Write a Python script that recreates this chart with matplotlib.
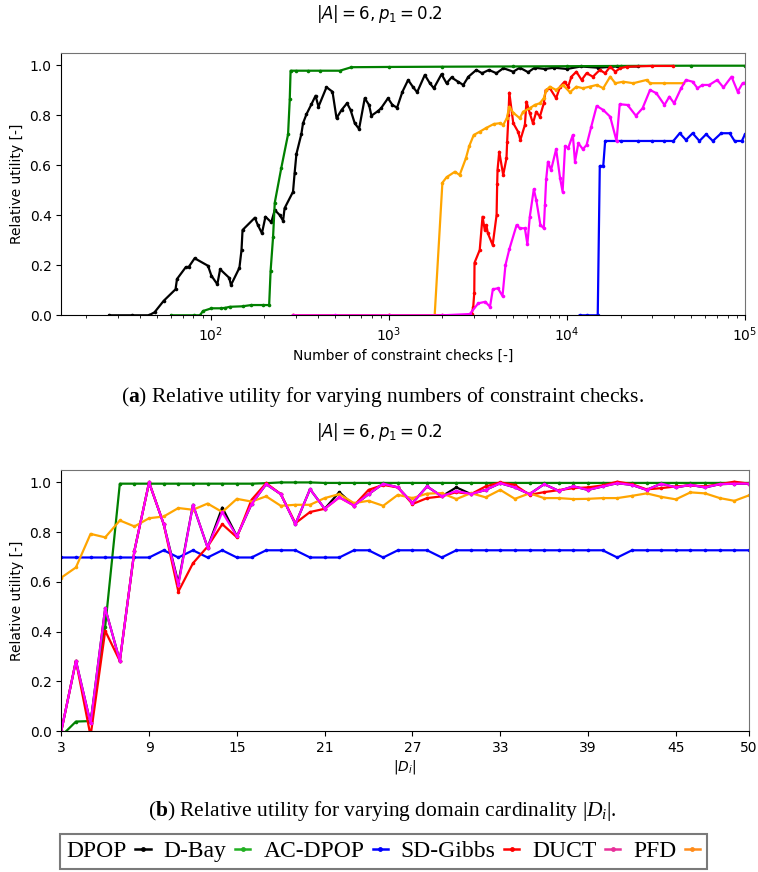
import matplotlib
matplotlib.use("Agg")
import matplotlib.pyplot as plt
from matplotlib.lines import Line2D

plt.rcParams['font.family'] = ['DejaVu Sans']
plt.rcParams['mathtext.fontset'] = 'dejavusans'
plt.rcParams['mathtext.rm'] = 'Liberation Serif'
plt.rcParams['mathtext.it'] = 'Liberation Serif:italic'
plt.rcParams['mathtext.bf'] = 'Liberation Serif:bold'

# ---------------- data: (a) relative utility vs constraint checks ----------------
labels = ["DPOP", "D-Bay", "AC-DPOP", "SD-Gibbs", "DUCT", "PFD"]

a_black_x = [27, 36, 45, 48.4, 54.5, 63.5, 64.7, 72.4, 75.4, 81.3, 96.6, 101, 109, 113, 127, 130, 145, 149,
             151, 177, 184, 194, 203, 219, 229, 244, 255, 260, 290, 296, 303, 323, 330, 345, 368, 388, 403,
             447, 483, 509, 543, 583, 610, 644, 681, 733, 775, 799, 871, 905, 990, 1048, 1113, 1193, 1284,
             1370, 1443, 1593, 1700, 1790, 1977, 2110, 2250, 2450, 2620, 2800, 3100, 3340, 3650, 4020,
             4400, 5000, 5440, 6060, 6600, 7500, 8500, 10000, 12000, 15000, 19000, 25000]
a_black_y = [0, 0, 0, 0.012, 0.058, 0.104, 0.145, 0.192, 0.194, 0.228, 0.198, 0.158, 0.124, 0.184, 0.150,
             0.121, 0.19, 0.261, 0.341, 0.39, 0.361, 0.328, 0.394, 0.372, 0.421, 0.401, 0.378, 0.428, 0.494,
             0.568, 0.645, 0.725, 0.768, 0.804, 0.844, 0.878, 0.834, 0.912, 0.894, 0.788, 0.821, 0.848,
             0.821, 0.768, 0.745, 0.868, 0.841, 0.798, 0.817, 0.828, 0.868, 0.841, 0.830, 0.894, 0.941,
             0.912, 0.892, 0.961, 0.928, 0.908, 0.964, 0.928, 0.951, 0.934, 0.921, 0.954, 0.981, 0.968,
             0.981, 0.968, 0.988, 0.974, 0.99, 0.972, 0.99, 0.985, 0.99, 0.985, 0.995, 0.99, 0.995, 0.995]

a_green_x = [60, 81, 87, 90.5, 101, 115, 121, 128, 151, 169, 197, 213, 217, 224, 229, 249, 272, 278, 281,
             300, 350, 409, 531, 617, 1000, 2000, 5000, 10000, 20000, 50000, 100000]
a_green_y = [0, 0, 0, 0.017, 0.028, 0.028, 0.03, 0.034, 0.036, 0.041, 0.041, 0.041, 0.177, 0.312, 0.45,
             0.588, 0.724, 0.864, 0.978, 0.978, 0.978, 0.978, 0.978, 0.992, 0.993, 0.994, 0.995, 0.996,
             0.997, 0.998, 0.998]

a_blue_x = [11800, 13000, 14900, 15300, 16000, 16400, 20000, 25000, 30000, 35000, 39600, 43000, 46600,
            50800, 55500, 60500, 66000, 73500, 82000, 87400, 96000, 100000]
a_blue_y = [0, 0, 0, 0.597, 0.597, 0.697, 0.697, 0.697, 0.697, 0.697, 0.697, 0.728, 0.701, 0.728, 0.697,
            0.724, 0.697, 0.728, 0.728, 0.697, 0.697, 0.724]

a_red_x = [290, 1000, 2000, 2800, 2920, 2980, 3020, 3030, 3240, 3360, 3460, 3530, 3600, 3830, 4030, 4060,
           4080, 4170, 4390, 4580, 4620, 4700, 4750, 5000, 5320, 5480, 5810, 5930, 6190, 6450, 6730, 7050,
           7420, 7600, 8020, 8700, 9160, 9700, 10160, 10600, 11300, 12100, 12900, 14000, 15300, 16400,
           17500, 18700, 19900, 21700, 30000, 39400]
a_red_y = [0, 0, 0, 0, 0.005, 0.034, 0.09, 0.21, 0.261, 0.394, 0.341, 0.361, 0.328, 0.281, 0.401, 0.524,
           0.581, 0.654, 0.561, 0.628, 0.694, 0.801, 0.89, 0.768, 0.734, 0.701, 0.761, 0.854, 0.808, 0.768,
           0.814, 0.794, 0.848, 0.90, 0.908, 0.868, 0.914, 0.934, 0.914, 0.954, 0.974, 0.941, 0.968, 0.954,
           0.981, 0.968, 0.994, 0.974, 0.988, 0.994, 0.997, 0.997]

a_magenta_x = [290, 500, 1000, 2000, 2850, 3180, 3480, 3700, 3840, 4100, 4350, 4520, 4750, 5220, 5440,
               5810, 6000, 6190, 6520, 6730, 7100, 7420, 7530, 7650, 7830, 8150, 8700, 9160, 9460, 9770,
               10160, 10800, 11100, 11600, 12300, 12900, 13700, 14700, 16000, 17500, 19000, 19800, 21900,
               24400, 26600, 29300, 31800, 35300, 37600, 40000, 43800, 46600, 50800, 54100, 57700, 63000,
               69800, 75700, 84000, 91000, 97000, 100000]
a_magenta_y = [0, 0, 0, 0, 0.005, 0.048, 0.054, 0.034, 0.104, 0.108, 0.077, 0.201, 0.264, 0.361, 0.348,
               0.348, 0.285, 0.394, 0.504, 0.461, 0.361, 0.348, 0.441, 0.544, 0.614, 0.581, 0.664, 0.548,
               0.494, 0.677, 0.668, 0.721, 0.614, 0.688, 0.664, 0.681, 0.754, 0.837, 0.821, 0.794, 0.697,
               0.844, 0.841, 0.798, 0.828, 0.901, 0.888, 0.841, 0.874, 0.848, 0.908, 0.941, 0.934, 0.908,
               0.921, 0.921, 0.941, 0.911, 0.954, 0.894, 0.928, 0.93]

a_orange_x = [290, 1000, 1810, 2000, 2110, 2350, 2500, 2710, 2830, 3000, 3240, 3500, 3890, 4200, 4390,
              4600, 4750, 5000, 5440, 5680, 6190, 6600, 7050, 7420, 7650, 8020, 8700, 9500, 10400, 11300,
              12300, 13400, 14700, 16000, 17500, 18700, 20700, 23600, 28000, 29300, 35000, 45000]
a_orange_y = [0, 0, 0, 0.53, 0.552, 0.574, 0.561, 0.628, 0.677, 0.721, 0.734, 0.748, 0.765, 0.768, 0.761,
              0.788, 0.834, 0.81, 0.788, 0.814, 0.828, 0.841, 0.848, 0.868, 0.90, 0.914, 0.901, 0.921,
              0.892, 0.914, 0.908, 0.914, 0.921, 0.908, 0.954, 0.928, 0.934, 0.928, 0.941, 0.928, 0.928,
              0.928]

# ---------------- data: (b) relative utility vs domain cardinality ----------------
b_x = list(range(3, 51))
b_magenta = [0.0, 0.282, 0.031, 0.494, 0.282, 0.726, 1.0, 0.832, 0.588, 0.91, 0.738, 0.881, 0.783, 0.913,
             0.993, 0.953, 0.832, 0.973, 0.894, 0.94, 0.907, 0.953, 0.995, 0.98, 0.917, 0.984, 0.944,
             0.966, 0.953, 0.97, 0.997, 0.98, 0.953, 0.993, 0.966, 0.984, 0.97, 0.984, 0.997, 0.99, 0.97,
             0.995, 0.98, 0.99, 0.98, 0.993, 0.995, 0.995]
b_black = [0.0, 0.282, 0.031, 0.494, 0.282, 0.726, 1.0, 0.832, 0.595, 0.91, 0.738, 0.899, 0.783, 0.913,
           0.993, 0.953, 0.832, 0.973, 0.894, 0.961, 0.907, 0.953, 0.995, 0.98, 0.917, 0.984, 0.944,
           0.98, 0.953, 0.97, 0.997, 0.98, 0.953, 0.993, 0.966, 0.984, 0.97, 0.984, 0.997, 0.99, 0.97,
           0.995, 0.98, 0.99, 0.98, 0.993, 0.995, 0.995]
b_red = [0.0, 0.282, -0.02, 0.403, 0.282, 0.726, 1.0, 0.832, 0.561, 0.675, 0.742, 0.832, 0.779, 0.93,
         0.997, 0.953, 0.836, 0.881, 0.894, 0.94, 0.907, 0.97, 0.99, 0.98, 0.913, 0.937, 0.944, 0.961,
         0.953, 0.984, 1.0, 0.99, 0.95, 0.961, 0.969, 0.977, 0.98, 0.988, 1.003, 0.993, 0.972, 0.977,
         0.984, 0.988, 0.984, 0.993, 1.003, 0.995]
b_green = [-0.02, 0.038, 0.04, 0.42, 0.995, 0.995, 0.995, 0.995, 0.995, 0.995, 0.995, 0.995, 0.995,
           0.995, 0.997, 1.0, 1.0, 1.0, 0.998, 0.998, 0.998, 0.998, 0.998, 0.998, 0.998, 0.998, 0.998,
           0.998, 0.998, 0.998, 0.998, 0.998, 0.998, 0.998, 0.998, 0.998, 0.998, 0.998, 0.998, 0.998,
           0.998, 0.998, 0.998, 0.998, 0.998, 0.998, 0.998, 0.998]
b_blue = [0.698, 0.698, 0.698, 0.698, 0.698, 0.698, 0.698, 0.727, 0.698, 0.727, 0.698, 0.727, 0.698,
          0.698, 0.727, 0.727, 0.727, 0.698, 0.698, 0.698, 0.727, 0.727, 0.698, 0.727, 0.727, 0.727,
          0.698, 0.727, 0.727, 0.727, 0.727, 0.727, 0.727, 0.727, 0.727, 0.727, 0.727, 0.727, 0.698,
          0.727, 0.727, 0.727, 0.727, 0.727, 0.727, 0.727, 0.727, 0.727]
b_orange = [0.617, 0.658, 0.793, 0.779, 0.847, 0.823, 0.856, 0.863, 0.897, 0.89, 0.915, 0.881, 0.934,
            0.923, 0.944, 0.906, 0.91, 0.91, 0.937, 0.953, 0.917, 0.926, 0.906, 0.95, 0.937, 0.955, 0.957,
            0.933, 0.957, 0.94, 0.97, 0.934, 0.956, 0.937, 0.937, 0.933, 0.934, 0.937, 0.937, 0.946,
            0.956, 0.942, 0.932, 0.96, 0.956, 0.937, 0.926, 0.948]

b_xticks = [3, 9, 15, 21, 27, 33, 39, 45, 50]
y_ticks = [0.0, 0.2, 0.4, 0.6, 0.8, 1.0]

line_colors = ["black", "green", "blue", "red", "#ff00ff", "orange"]
legend_colors = ["black", "#22b022", "blue", "red", "#e8309a", "#ff8c1a"]

W, H = 758, 872
fig = plt.figure(figsize=(W / 100, H / 100), dpi=100)

def rect(l, t, r, b):
    return [l / W, 1 - b / H, (r - l) / W, (b - t) / H]

ax1 = fig.add_axes(rect(61.3, 52.7, 745, 315.3))
ax2 = fig.add_axes(rect(61.3, 470, 749, 731))

kw = dict(lw=1.6, marker='o', ms=2.6, markeredgewidth=0)

series_a = [(a_black_x, a_black_y), (a_green_x, a_green_y), (a_blue_x, a_blue_y),
            (a_red_x, a_red_y), (a_orange_x, a_orange_y), (a_magenta_x, a_magenta_y)]
cols_a = [line_colors[0], line_colors[1], line_colors[2], line_colors[3], line_colors[5], line_colors[4]]
for (xs, ys), c in zip(series_a, cols_a):
    ax1.plot(xs, ys, color=c, **kw)
ax1.set_xscale('log')
ax1.set_xlim(14.5, 1e5)
ax1.set_ylim(0, 1.05)
ax1.set_yticks(y_ticks)
ax1.set_xlabel("Number of constraint checks [-]", fontsize=10)
ax1.set_ylabel("Relative utility [-]", fontsize=10)

series_b = [b_black, b_green, b_blue, b_red, b_orange, b_magenta]
for ys, c in zip(series_b, cols_a):
    ax2.plot(b_x, ys, color=c, **kw)
ax2.set_xlim(3, 50)
ax2.set_ylim(0, 1.05)
ax2.set_xticks(b_xticks)
ax2.set_yticks(y_ticks)
ax2.set_xlabel(r"$|D_i|$", fontsize=10, labelpad=2)
ax2.set_ylabel("Relative utility [-]", fontsize=10)

for ax in (ax1, ax2):
    ax.tick_params(labelsize=10)
    for s in ("top", "right"):
        ax.spines[s].set_color("0.45")

fig.text(0.5, 1 - 14 / H, r"$|A| = 6, p_1 = 0.2$", ha='center', va='center', fontsize=12)
fig.text(0.5, 1 - 432 / H, r"$|A| = 6, p_1 = 0.2$", ha='center', va='center', fontsize=12)

fig.text(0.505, 1 - 397 / H, r"($\mathbf{a}$) Relative utility for varying numbers of constraint checks.",
         ha='center', va='center', fontsize=15.5, family='Liberation Serif', math_fontfamily='custom')
fig.text(0.505, 1 - 811 / H, r"($\mathbf{b}$) Relative utility for varying domain cardinality $|D_i|$.",
         ha='center', va='center', fontsize=15.5, family='Liberation Serif', math_fontfamily='custom')

handles = [Line2D([], [], color=c, lw=1.8, marker='o', ms=3.5, markeredgewidth=0) for c in legend_colors]
leg = fig.legend(handles, labels, loc='center', bbox_to_anchor=(383.5 / W, 1 - 851.5 / H), ncol=6,
                 markerfirst=False, frameon=True, fancybox=False, edgecolor='0.35',
                 prop={'family': 'Liberation Serif', 'size': 17}, handlelength=0.65, handletextpad=0.35,
                 columnspacing=0.55, borderpad=0.3, borderaxespad=0)
leg.get_frame().set_linewidth(1.5)

fig.savefig("out.png", dpi=100)
